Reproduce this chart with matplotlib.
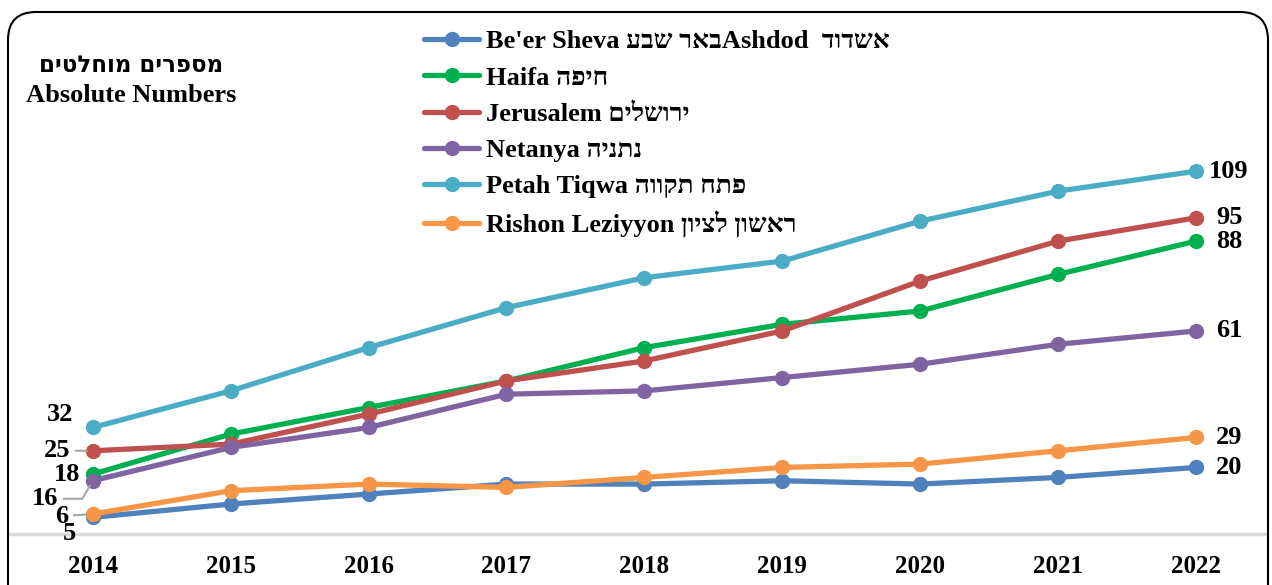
import matplotlib
matplotlib.use("Agg")
import matplotlib.pyplot as plt
from matplotlib.patches import FancyBboxPatch
from matplotlib.transforms import IdentityTransform


def heb(s):
    # matplotlib has no bidi, so Hebrew is flipped by hand
    return s[::-1]


years = ["2014", "2015", "2016", "2017", "2018", "2019", "2020", "2021", "2022"]

beer_sheva = [5, 9, 12, 15, 15, 16, 15, 17, 20]
haifa = [18, 30, 38, 46, 56, 63, 67, 78, 88]
jerusalem = [25, 27, 36, 46, 52, 61, 76, 88, 95]
netanya = [16, 26, 32, 42, 43, 47, 51, 57, 61]
petah_tiqwa = [32, 43, 56, 68, 77, 82, 94, 103, 109]
rishon = [6, 13, 15, 14, 17, 20, 21, 25, 29]

labels = [
    "Be'er Sheva " + heb("באר שבע") + "Ashdod  " + heb("אשדוד"),
    "Haifa " + heb("חיפה"),
    "Jerusalem " + heb("ירושלים"),
    "Netanya " + heb("נתניה"),
    "Petah Tiqwa " + heb("פתח תקווה"),
    "Rishon Leziyyon " + heb("ראשון לציון"),
]
series = [beer_sheva, haifa, jerusalem, netanya, petah_tiqwa, rishon]
colors = ["#4F81BD", "#00B050", "#C0504D", "#8064A2", "#4BACC6", "#F79646"]

fams = ["Liberation Serif", "DejaVu Sans"]
plt.rcParams["font.family"] = fams
plt.rcParams["font.weight"] = "bold"

fig = plt.figure(figsize=(12.72, 5.85), dpi=100)
ax = fig.add_axes([10 / 1272, 51 / 585, 1255 / 1272, 466 / 585])

x = list(range(len(years)))
for vals, lab, col in zip(series, labels, colors):
    ax.plot(x, vals, color=col, lw=3.8, marker="o", ms=10, label=lab,
            solid_capstyle="round")

ax.set_xlim(-0.6, 8.5)
ax.set_ylim(0, 140)
ax.set_xticks(x)
ax.set_xticklabels(years, fontsize=18, fontweight="bold")
ax.tick_params(axis="x", length=0, pad=15)
ax.set_yticks([])
for s in ["left", "right", "top"]:
    ax.spines[s].set_visible(False)
ax.spines["bottom"].set_color("#D9D9D9")
ax.spines["bottom"].set_linewidth(2.5)

# end labels on the right
for vals in series:
    ax.annotate(str(vals[-1]), (x[-1], vals[-1]), xytext=(33, 0),
                textcoords="offset pixels", ha="center", va="center",
                fontsize=19, fontweight="bold")

# start labels on the left
gray = "#A6A6A6"
left = [
    (petah_tiqwa, (-33, 13), None),
    (jerusalem, (-36, 0), "arc3"),
    (haifa, (-26, 0), None),
    (netanya, (-48, -18), "angle,angleA=0,angleB=60,rad=0"),
    (rishon, (-31, -2), "arc3"),
    (beer_sheva, (-23, -16), None),
]
for vals, off, conn in left:
    kw = {}
    if conn:
        kw["arrowprops"] = dict(arrowstyle="-", color=gray, lw=1.5,
                                connectionstyle=conn, shrinkA=2, shrinkB=4)
    ax.annotate(str(vals[0]), (x[0], vals[0]), xytext=off,
                textcoords="offset pixels", ha="center", va="center",
                fontsize=19, fontweight="bold", **kw)

fig.text(131 / 1272, 1 - 65 / 585, heb("מספרים מוחלטים"), ha="center",
         va="center", fontsize=16.5, fontweight="bold", family=["DejaVu Sans"])
fig.text(131 / 1272, 1 - 95 / 585, "Absolute Numbers", ha="center",
         va="center", fontsize=19, fontweight="bold")

fig.legend(loc="upper left", bbox_to_anchor=(424 / 1272, 1 - 30 / 585),
           frameon=False, handlelength=2.1, handletextpad=0.25,
           labelspacing=0.48, borderpad=0, borderaxespad=0,
           prop={"weight": "bold", "size": 19, "family": fams})

border = FancyBboxPatch((8, -30), 1260, 603,
                        boxstyle="round,pad=0,rounding_size=28",
                        transform=IdentityTransform(), fill=False,
                        edgecolor="black", lw=1.5)
fig.patches.append(border)

fig.savefig("out.png", dpi=100)
